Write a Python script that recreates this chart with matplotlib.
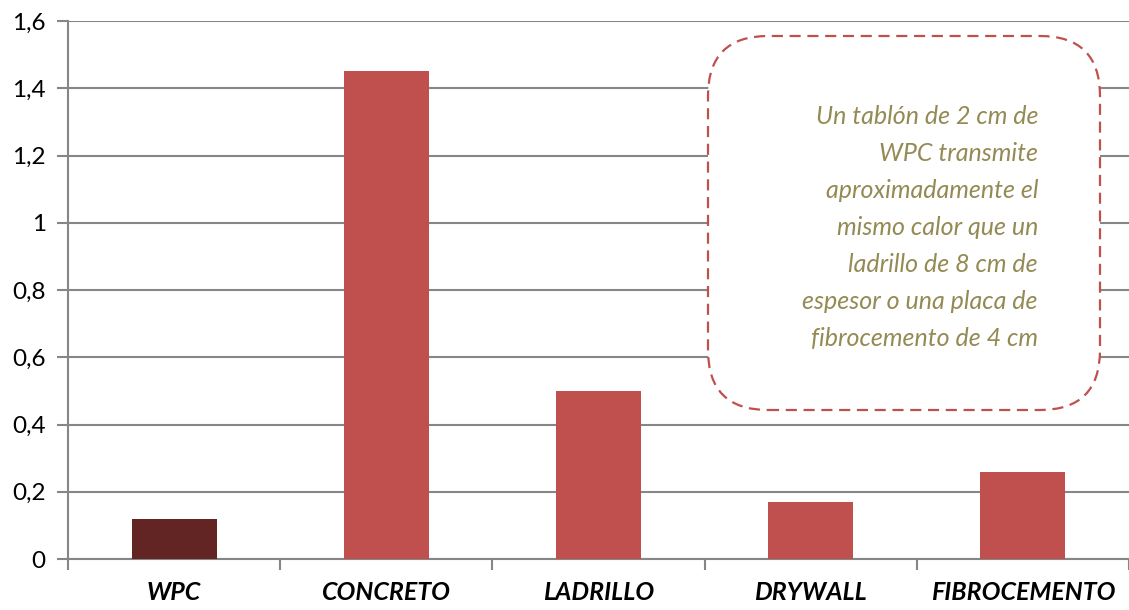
import matplotlib
matplotlib.use("Agg")
import matplotlib.pyplot as plt
from matplotlib.patches import FancyBboxPatch

categories = ["WPC", "CONCRETO", "LADRILLO", "DRYWALL", "FIBROCEMENTO"]
values = [0.12, 1.45, 0.50, 0.17, 0.26]
bar_colors = ["#632523", "#C0504D", "#C0504D", "#C0504D", "#C0504D"]
yticks = [0, 0.2, 0.4, 0.6, 0.8, 1.0, 1.2, 1.4, 1.6]
ytick_labels = ["0", "0,2", "0,4", "0,6", "0,8", "1", "1,2", "1,4", "1,6"]
note = ("Un tablón de 2 cm de\nWPC transmite\naproximadamente el\n"
        "mismo calor que un\nladrillo de 8 cm de\nespesor o una placa de\n"
        "fibrocemento de 4 cm")

plt.rcParams['font.family'] = ['Lato', 'DejaVu Sans']

fig = plt.figure(figsize=(11.29, 6.10), dpi=100)
ax = fig.add_axes([68/1129, 51/610, 1061/1129, 538/610])

x = list(range(len(categories)))
ax.bar(x, values, width=0.4, color=bar_colors, zorder=3)
ax.set_xlim(-0.5, len(categories) - 0.5)
ax.set_ylim(0, 1.6)
ax.set_yticks(yticks)
ax.set_yticklabels(ytick_labels, fontsize=17.5)
ax.yaxis.grid(True, color="#868686", linewidth=1.5, zorder=0)
ax.set_axisbelow(True)

ax.set_xticks([i - 0.5 for i in range(len(categories) + 1)])
ax.set_xticklabels([])
ax.set_xticks(x, minor=True)
ax.set_xticklabels(categories, minor=True, fontsize=18, fontweight="bold",
                   fontstyle="italic")
ax.tick_params(axis="x", which="minor", length=0, pad=16)
ax.tick_params(axis="x", which="major", length=8, width=1.5, color="#868686")
ax.tick_params(axis="y", length=8, width=1.5, color="#868686", pad=8)

for s in ["top", "right"]:
    ax.spines[s].set_visible(False)
for s in ["left", "bottom"]:
    ax.spines[s].set_color("#868686")
    ax.spines[s].set_linewidth(1.5)

box = FancyBboxPatch((7.08, 2.00), 3.92, 3.74,
                     boxstyle="round,pad=0,rounding_size=0.6",
                     transform=fig.dpi_scale_trans, facecolor="white",
                     edgecolor="#C0504D", linewidth=1.6,
                     linestyle=(0, (5, 3)), zorder=5)
fig.patches.append(box)
box.set_figure(fig)

fig.text(10.38, 3.825, note, transform=fig.dpi_scale_trans, ha="right",
         va="center", fontsize=18, fontstyle="italic", color="#948A54",
         linespacing=1.73, zorder=6)

fig.savefig("out.png", dpi=100)
